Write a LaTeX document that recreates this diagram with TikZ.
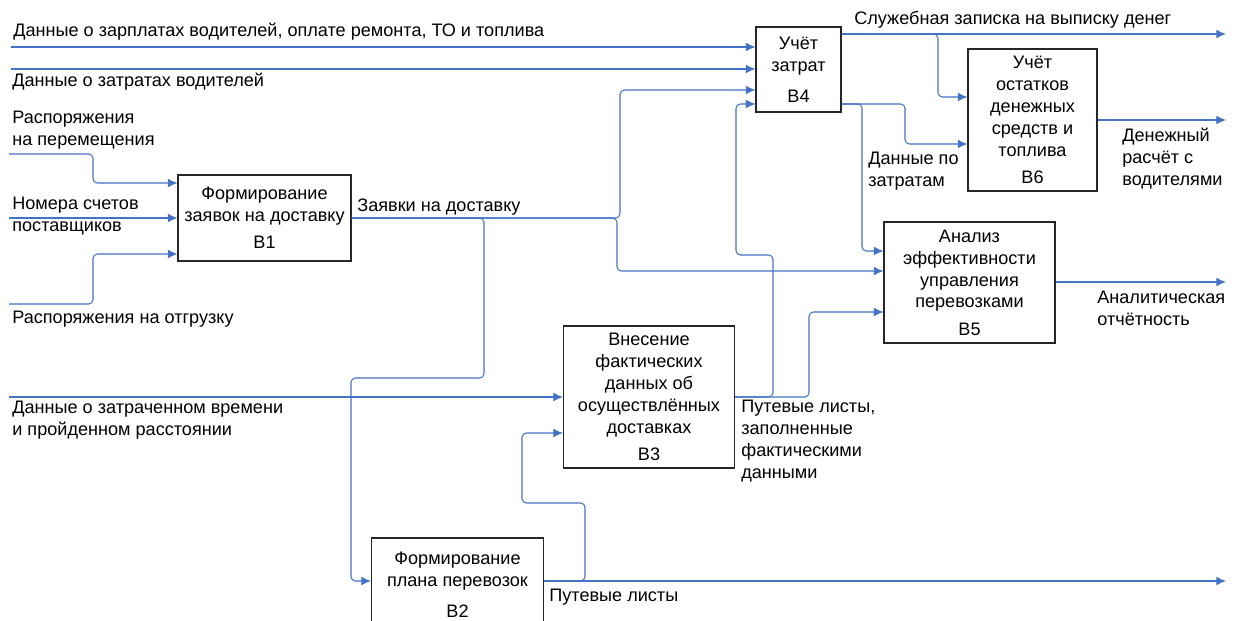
\documentclass[tikz,border=0pt]{standalone}
\usepackage{fontspec}
\setmainfont{Liberation Sans}
\usetikzlibrary{arrows.meta, positioning}

\definecolor{flowblue}{RGB}{68,114,196}

\begin{document}
\begin{tikzpicture}[x=0.02cm, y=-0.02cm, font=\fontsize{10.3}{12.5}\selectfont,
    block/.style={draw=black!85, line width=0.6pt, align=center, inner sep=0pt},
    lbl/.style={anchor=west, align=left, inner sep=0pt},
    flow/.style={draw=flowblue, line width=0.6pt, rounded corners=2.5pt, -{Latex[length=5.5pt,width=5pt]}}]
    \useasboundingbox (0,0) rectangle (1238,621);

    % functional blocks
    \node[block, minimum width=3.46cm, minimum height=1.72cm] (b1) at (264.5,218) {Формирование\\заявок на доставку\\[3pt]В1};
    \node[block, minimum width=3.44cm, minimum height=1.88cm] (b2) at (457.5,585) {Формирование\\плана перевозок\\[5pt]В2};
    \node[block, minimum width=3.42cm, minimum height=2.84cm] (b3) at (649,397) {Внесение\\фактических\\данных об\\осуществлённых\\доставках\\[3pt]В3};
    \node[block, minimum width=1.7cm, minimum height=1.7cm] (b4) at (798.5,69.5) {Учёт\\затрат\\[5pt]В4};
    \node[block, minimum width=3.42cm, minimum height=2.42cm] (b5) at (969.5,282.5) {Анализ\\эффективности\\управления\\перевозками\\[3pt]В5};
    \node[block, minimum width=2.58cm, minimum height=2.84cm] (b6) at (1032.5,120) {Учёт\\остатков\\денежных\\средств и\\топлива\\[3pt]В6};

    % free ends
    \coordinate (inPay) at (11,47);
    \coordinate (inCost) at (11,69);
    \coordinate (inMove) at (9,154);
    \coordinate (inBill) at (9,218);
    \coordinate (inShip) at (9,304);
    \coordinate (inTime) at (9,397);
    \coordinate (outMemo) at (1226,34);
    \coordinate (outCash) at (1226,120);
    \coordinate (outRep) at (1226,282);
    \coordinate (outList) at (1226,581);

    % labels
    \node[lbl] (tPay) at (13,32) {Данные о зарплатах водителей, оплате ремонта, ТО и топлива};
    \node[lbl] (tCost) at (12,82) {Данные о затратах водителей};
    \node[lbl] (tMove) at (12,130) {Распоряжения\\на перемещения};
    \node[lbl] (tBill) at (12,216.5) {Номера счетов\\поставщиков};
    \node[lbl] (tShip) at (12,319) {Распоряжения на отгрузку};
    \node[lbl] (tTime) at (12,420) {Данные о затраченном времени\\и пройденном расстоянии};
    \node[lbl] (tOrder) at (357,207) {Заявки на доставку};
    \node[lbl] (tList) at (549,597) {Путевые листы};
    \node[lbl] (tFilled) at (741,441) {Путевые листы,\\заполненные\\фактическими\\данными};
    \node[lbl] (tData) at (868,171.5) {Данные по\\затратам};
    \node[lbl] (tMemo) at (854,20) {Служебная записка на выписку денег};
    \node[lbl] (tCash) at (1122,158.5) {Денежный\\расчёт с\\водителями};
    \node[lbl] (tRep) at (1097,308) {Аналитическая\\отчётность};

    % inputs
    \draw[flow] (inPay) -- (inPay -| b4.west);
    \draw[flow] (inCost) -- (inCost -| b4.west);
    \draw[flow] (inMove) -- (93,154) -- (93,183) -- (b1.west |- 0,183);
    \draw[flow] (inBill) -- (b1.west);
    \draw[flow] (inShip) -- (93,304) -- (93,254) -- (b1.west |- 0,254);
    \draw[flow] (inTime) -- (inTime -| b3.west);

    % Заявки на доставку
    \draw[flow] (b1.east) -- (620,218) -- (620,90) -- (b4.west |- 0,90);
    \draw[flow] (b1.east) -- (617,218) -- (617,271) -- (b5.west |- 0,271);
    \draw[flow] (b1.east) -- (484,218) -- (484,378) -- (351,378) -- (351,581) -- (b2.west |- 0,581);

    % Путевые листы
    \draw[flow] (b2.east |- 0,581) -- (outList);
    \draw[flow] (b2.east |- 0,581) -- (585,581) -- (585,503) -- (522,503) -- (522,433) -- (b3.west |- 0,433);

    % fact data
    \draw[flow] (b3.east) -- (809,397) -- (809,312) -- (b5.west |- 0,312);
    \draw[flow] (b3.east) -- (773,397) -- (773,255) -- (736,255) -- (736,104) -- (b4.west |- 0,104);

    % B4 outputs
    \draw[flow] (b4.east |- outMemo) -- (outMemo);
    \draw[flow] (b4.east |- outMemo) -- (938,34) -- (938,97) -- (b6.west |- 0,97);
    \draw[flow] (b4.east |- 0,104) -- (905,104) -- (905,144) -- (b6.west |- 0,144);
    \draw[flow] (b4.east |- 0,104) -- (862,104) -- (862,251) -- (b5.west |- 0,251);

    % outputs
    \draw[flow] (b6.east) -- (outCash);
    \draw[flow] (b5.east |- 0,282) -- (outRep);
\end{tikzpicture}
\end{document}
